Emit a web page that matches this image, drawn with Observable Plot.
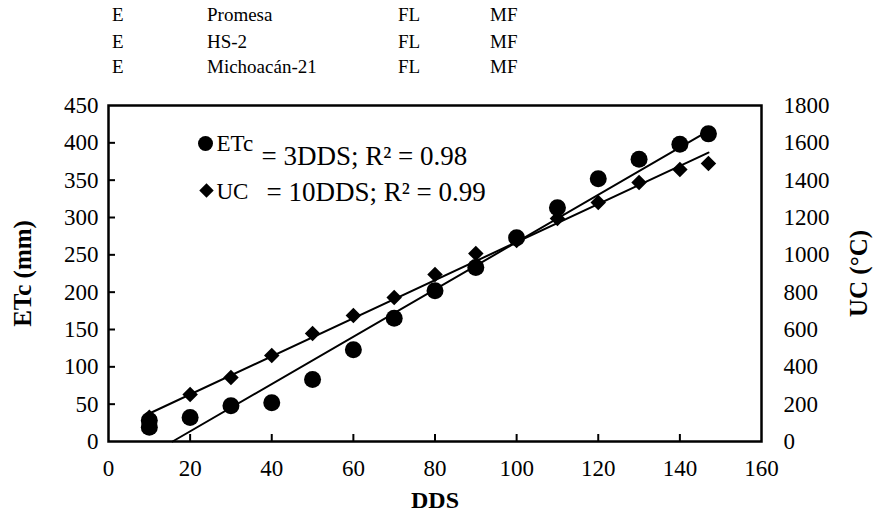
<!DOCTYPE html>
<html><head><meta charset="utf-8">
<script src="https://cdn.jsdelivr.net/npm/d3@7"></script>
<script src="https://cdn.jsdelivr.net/npm/@observablehq/plot@0.6"></script>
<style>
body{margin:0;background:#fff;font-family:"Liberation Serif","DejaVu Serif",serif;}
#wrap{width:879px;height:527px;position:relative;overflow:hidden;background:#fff}
#hdr{position:relative;height:88px;font-size:19px;color:#000;font-family:"Liberation Serif","DejaVu Serif",serif}
.row{position:absolute;left:0;height:19px;line-height:19px;white-space:nowrap}
.row span{position:absolute;top:0}
#chart svg{display:block}
#chart svg text{font-family:"Liberation Serif","DejaVu Serif",serif}
</style></head><body>
<div id="wrap"><div id="hdr"></div><div id="chart"></div></div>
<script>
// ---- data ----
const headerRows = [
  ["E", "Promesa", "FL", "MF"],
  ["E", "HS-2", "FL", "MF"],
  ["E", "Michoacán-21", "FL", "MF"]
];
const ddsEtc = [10, 10, 20, 30, 40, 50, 60, 70, 80, 90, 100, 110, 120, 130, 140, 147];
const etcValues = [28, 19, 32, 48, 52, 83, 123, 165, 202, 233, 273, 313, 352, 378, 398, 412];
const ddsUc = [10, 20, 30, 40, 50, 60, 70, 80, 90, 100, 110, 120, 130, 140, 147];
const ucValues = [130, 252, 343, 461, 579, 675, 771, 895, 1007, 1077, 1195, 1280, 1387, 1457, 1489];
// fitted trend lines (end points)
const etcTrendDds = [15.7, 147];
const etcTrendValues = [0, 416];
const ucTrendDds = [10, 147];
const ucTrendValues = [150, 1548];
const xTicks = [0, 20, 40, 60, 80, 100, 120, 140, 160];
const etcTicks = [0, 50, 100, 150, 200, 250, 300, 350, 400, 450];
const ucTicks = [0, 200, 400, 600, 800, 1000, 1200, 1400, 1600, 1800];
const legendNames = ["ETc", "UC"];
const legendEquations = ["= 3DDS; R² = 0.98", "= 10DDS; R² = 0.99"];
const axisTitles = {x: "DDS", y: "ETc (mm)", y2: "UC (°C)"};

// UC is drawn on the ETc scale; right axis 1800 ↔ left axis 450
const UC_RATIO = 4;

const etcData = ddsEtc.map((d, i) => ({dds: d, v: etcValues[i]}));
const ucData = ddsUc.map((d, i) => ({dds: d, v: ucValues[i] / UC_RATIO}));
const etcTrend = etcTrendDds.map((d, i) => ({dds: d, v: etcTrendValues[i]}));
const ucTrend = ucTrendDds.map((d, i) => ({dds: d, v: ucTrendValues[i] / UC_RATIO}));

// ---- header ----
const colLeft = [112, 207, 398, 490];
const rowTop = [5, 32, 57];
const hdr = document.getElementById("hdr");
headerRows.forEach((r, i) => {
  const row = document.createElement("div");
  row.className = "row";
  row.style.top = rowTop[i] + "px";
  r.forEach((t, j) => {
    const s = document.createElement("span");
    s.textContent = t;
    s.style.left = colLeft[j] + "px";
    row.appendChild(s);
  });
  hdr.appendChild(row);
});

// ---- chart ----
const font = '"Liberation Serif", "DejaVu Serif", serif';
const mid = {lineAnchor: "middle", textAnchor: "start"};
const chart = Plot.plot({
  width: 879,
  height: 439,
  marginLeft: 108,
  marginRight: 118,
  marginTop: 17,
  marginBottom: 86,
  style: {fontFamily: font, fontSize: "23px", color: "#000", background: "#fff", overflow: "visible"},
  x: {domain: [0, 160]},
  y: {domain: [0, 450]},
  marks: [
    // inward tick marks on bottom and left
    Plot.ruleX(xTicks.slice(1, -1), {x: d => d, y1: 0, y2: 0, insetTop: -7, stroke: "#000", strokeWidth: 2}),
    Plot.ruleY(etcTicks.slice(1, -1), {y: d => d, x1: 0, x2: 0, insetRight: -7, stroke: "#000", strokeWidth: 2}),
    // tick labels
    Plot.axisX(xTicks, {tickSize: 0, tickPadding: 18, label: null}),
    Plot.axisY(etcTicks, {tickSize: 0, tickPadding: 10, label: null}),
    Plot.axisY(ucTicks.map(v => v / UC_RATIO), {anchor: "right", tickSize: 0, tickPadding: 22, tickFormat: d => String(Math.round(d * UC_RATIO)), label: null}),
    // trend lines
    Plot.line(etcTrend, {x: "dds", y: "v", stroke: "#000", strokeWidth: 2}),
    Plot.line(ucTrend, {x: "dds", y: "v", stroke: "#000", strokeWidth: 2}),
    // points
    Plot.dot(ucData, {x: "dds", y: "v", symbol: "diamond2", r: 7, fill: "#000"}),
    Plot.dot(etcData, {x: "dds", y: "v", symbol: "circle", r: 8.5, fill: "#000"}),
    // in-plot legend / equations
    Plot.dot([legendNames[0]], {frameAnchor: "top-left", dx: 97, dy: 38, symbol: "circle", r: 7.5, fill: "#000"}),
    Plot.text([legendNames[0]], {frameAnchor: "top-left", dx: 108, dy: 38, ...mid, fontSize: 23}),
    Plot.text([legendEquations[0]], {frameAnchor: "top-left", dx: 153, dy: 51, ...mid, fontSize: 27}),
    Plot.dot([legendNames[1]], {frameAnchor: "top-left", dx: 98, dy: 85, symbol: "diamond2", r: 6.5, fill: "#000"}),
    Plot.text([legendNames[1]], {frameAnchor: "top-left", dx: 108, dy: 86, ...mid, fontSize: 23}),
    Plot.text([legendEquations[1]], {frameAnchor: "top-left", dx: 158, dy: 87, ...mid, fontSize: 27}),
    // axis titles
    Plot.text([axisTitles.y], {frameAnchor: "left", dx: -86, rotate: -90, lineAnchor: "middle", textAnchor: "middle", fontWeight: "bold", fontSize: 25}),
    Plot.text([axisTitles.y2], {frameAnchor: "right", dx: 97, rotate: -90, lineAnchor: "middle", textAnchor: "middle", fontWeight: "bold", fontSize: 25}),
    Plot.text([axisTitles.x], {frameAnchor: "bottom", dy: 59, lineAnchor: "middle", textAnchor: "middle", fontWeight: "bold", fontSize: 24}),
    Plot.frame({stroke: "#000", strokeWidth: 2.5})
  ]
});
document.getElementById("chart").appendChild(chart);
</script>
</body></html>
